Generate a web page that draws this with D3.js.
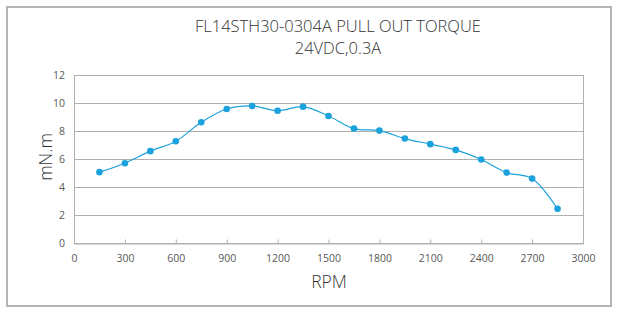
<!DOCTYPE html>
<html>
<head>
<meta charset="utf-8">
<script src="https://cdn.jsdelivr.net/npm/d3@7"></script>
<style>
	body { margin: 0; background: #fff; }
	text { font-family: "Open Sans", "Noto Sans", sans-serif; }
</style>
</head>
<body>
<div id="chart"></div>
<script>
// chart data
const titleLines = ["FL14STH30-0304A PULL OUT TORQUE", "24VDC,0.3A"];
const rpm = [150, 300, 450, 600, 750, 900, 1050, 1200, 1350, 1500, 1650, 1800, 1950, 2100, 2250, 2400, 2550, 2700, 2850];
const torque = [5.06, 5.7, 6.56, 7.27, 8.62, 9.57, 9.79, 9.45, 9.74, 9.07, 8.17, 8.03, 7.46, 7.06, 6.65, 5.96, 5.03, 4.6, 2.44];
const xTicks = [0, 300, 600, 900, 1200, 1500, 1800, 2100, 2400, 2700, 3000];
const yTicks = [0, 2, 4, 6, 8, 10, 12];
const xLabel = "RPM";
const yLabel = "mN.m";

const width = 620, height = 315;
const margin = { top: 75, right: 37, bottom: 72, left: 74 };

const svg = d3
	.select("#chart")
	.append("svg")
	.attr("width", width)
	.attr("height", height);

// outer frame
svg.append("rect")
	.attr("x", 7)
	.attr("y", 7)
	.attr("width", 604)
	.attr("height", 299)
	.attr("fill", "none")
	.attr("stroke", "#b4b4b4")
	.attr("stroke-width", 2);

const x = d3.scaleLinear().domain([0, 3000]).range([margin.left, width - margin.right]);
const y = d3.scaleLinear().domain([0, 12]).range([height - margin.bottom, margin.top]);

// gridlines
svg.append("g")
	.attr("class", "grid")
	.selectAll("line")
	.data(yTicks)
	.join("line")
	.attr("x1", x(0))
	.attr("x2", x(3000))
	.attr("y1", (d) => Math.round(y(d)) + 0.5)
	.attr("y2", (d) => Math.round(y(d)) + 0.5)
	.attr("stroke", "#b0b0b0")
	.attr("stroke-width", 1);

// plot box edges
svg.append("line")
	.attr("x1", Math.round(x(0)) + 0.5).attr("x2", Math.round(x(0)) + 0.5)
	.attr("y1", y(12)).attr("y2", y(0))
	.attr("stroke", "#b0b0b0");
svg.append("line")
	.attr("x1", Math.round(x(3000)) + 0.5).attr("x2", Math.round(x(3000)) + 0.5)
	.attr("y1", y(12)).attr("y2", y(0))
	.attr("stroke", "#b0b0b0");

// x axis
const xAxis = svg.append("g")
	.attr("transform", `translate(0, ${Math.round(y(0)) + 0.5})`)
	.call(d3.axisBottom(x).tickValues(xTicks).tickSize(-4).tickPadding(11).tickFormat(d3.format("d")));
xAxis.select(".domain").attr("stroke", "#b0b0b0");
xAxis.selectAll(".tick line").attr("stroke", "#b0b0b0");
xAxis.selectAll("text")
	.attr("fill", "#595959")
	.style("font-size", "10.5px");

// y axis labels
const yAxis = svg.append("g")
	.attr("transform", `translate(${x(0)}, 0)`)
	.call(d3.axisLeft(y).tickValues(yTicks).tickSize(0).tickPadding(9));
yAxis.select(".domain").remove();
yAxis.selectAll("text")
	.attr("fill", "#595959")
	.style("font-size", "10.5px");

// series line, smoothed
const line = d3.line()
	.x((d, i) => x(rpm[i]))
	.y((d) => y(d))
	.curve(d3.curveCatmullRom.alpha(0.5));

svg.append("path")
	.datum(torque)
	.attr("fill", "none")
	.attr("stroke", "#1ba1dc")
	.attr("stroke-width", 1.2)
	.attr("d", line);

svg.append("g")
	.selectAll("circle")
	.data(torque)
	.join("circle")
	.attr("cx", (d, i) => x(rpm[i]))
	.attr("cy", (d) => y(d))
	.attr("r", 3.3)
	.attr("fill", "#1ba1dc");

// title, one text per line
svg.append("g")
	.selectAll("text")
	.data(titleLines)
	.join("text")
	.attr("x", 338)
	.attr("y", (d, i) => 31.5 + i * 22.5)
	.attr("text-anchor", "middle")
	.attr("fill", "#333")
	.style("font-size", "16.5px")
	.style("font-weight", 300)
	.text((d) => d);

// axis titles
svg.append("text")
	.attr("x", 329)
	.attr("y", 288)
	.attr("text-anchor", "middle")
	.attr("fill", "#333")
	.style("font-size", "17.5px")
	.style("font-weight", 300)
	.text(xLabel);

svg.append("text")
	.attr("transform", "translate(52, 157) rotate(-90)")
	.attr("text-anchor", "middle")
	.attr("fill", "#333")
	.style("font-size", "17.5px")
	.style("font-weight", 300)
	.text(yLabel);
</script>
</body>
</html>
